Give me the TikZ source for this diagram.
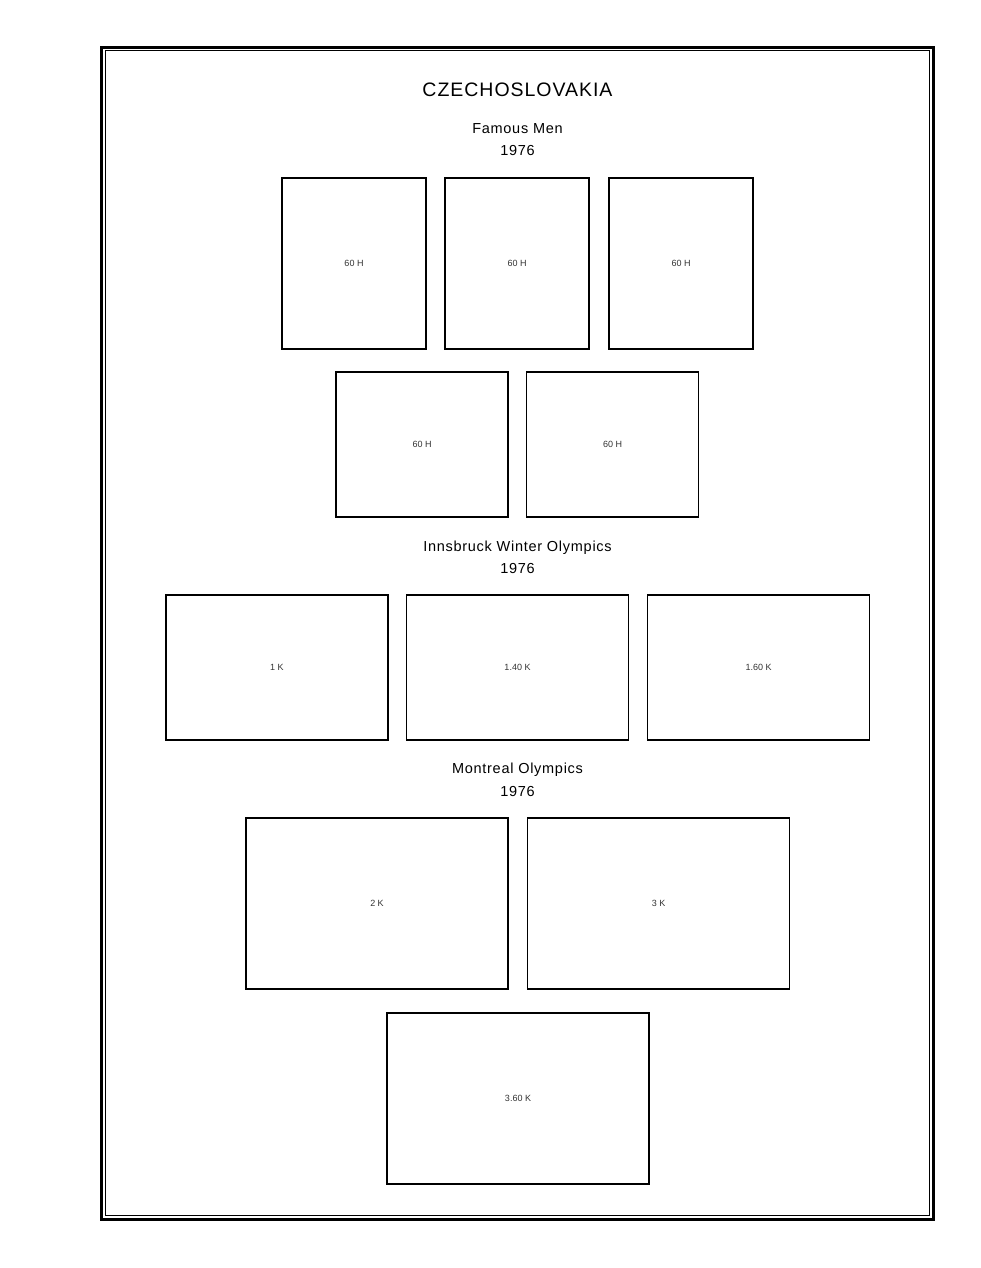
\documentclass[tikz,border=0pt]{standalone}
\usepackage{fontspec}
\setmainfont{Liberation Sans}
\newfontfamily\headfont[LetterSpace=5]{Liberation Sans}
\usepackage{tikz}

\begin{document}
\begin{tikzpicture}[x=1pt, y=-1pt,
    stamp/.style={draw, line width=1.3pt, inner sep=0pt, text=black!80, font=\fontsize{9}{9}\selectfont},
    title/.style={anchor=base, font=\headfont\fontsize{19.5}{20}\selectfont},
    heading/.style={anchor=base, font=\headfont\fontsize{14.5}{15}\selectfont}]
             \useasboundingbox (0,0) rectangle (980,1268);

             % page frame
             \draw[line width=3.3pt] (101.7,47.3) rectangle (933.7,1219.3);
             \draw[line width=1pt] (105.8,50.8) rectangle (929,1215);

             \node[title] (country) at (517.5, 96.5) {CZECHOSLOVAKIA};

             % Famous Men
             \node[heading] (famous) at (517.5, 134) {Famous Men};
             \node[heading] (famousyear) at (517.5, 156) {1976};
             \node[stamp, minimum width=144, minimum height=171] (fm1) at (354, 263.5) {60 H};
             \node[stamp, minimum width=144, minimum height=171] (fm2) at (517, 263.5) {60 H};
             \node[stamp, minimum width=144, minimum height=171] (fm3) at (681, 263.5) {60 H};
             \node[stamp, minimum width=172, minimum height=145] (fm4) at (422, 444.5) {60 H};
             \node[stamp, minimum width=172, minimum height=145] (fm5) at (612.5, 444.5) {60 H};

             % Innsbruck
             \node[heading] (innsbruck) at (517.5, 551) {Innsbruck Winter Olympics};
             \node[heading] (innsbruckyear) at (517.5, 573.5) {1976};
             \node[stamp, minimum width=222, minimum height=145] (io1) at (277, 667.5) {1 K};
             \node[stamp, minimum width=222, minimum height=145] (io2) at (517.5, 667.5) {1.40 K};
             \node[stamp, minimum width=222, minimum height=145] (io3) at (758.5, 667.5) {1.60 K};

             % Montreal
             \node[heading] (montreal) at (517.5, 773.5) {Montreal Olympics};
             \node[heading] (montrealyear) at (517.5, 796) {1976};
             \node[stamp, minimum width=262, minimum height=171] (mo1) at (377, 903.5) {2 K};
             \node[stamp, minimum width=262, minimum height=171] (mo2) at (658.5, 903.5) {3 K};
             \node[stamp, minimum width=262, minimum height=171] (mo3) at (518, 1098.5) {3.60 K};
\end{tikzpicture}
\end{document}
